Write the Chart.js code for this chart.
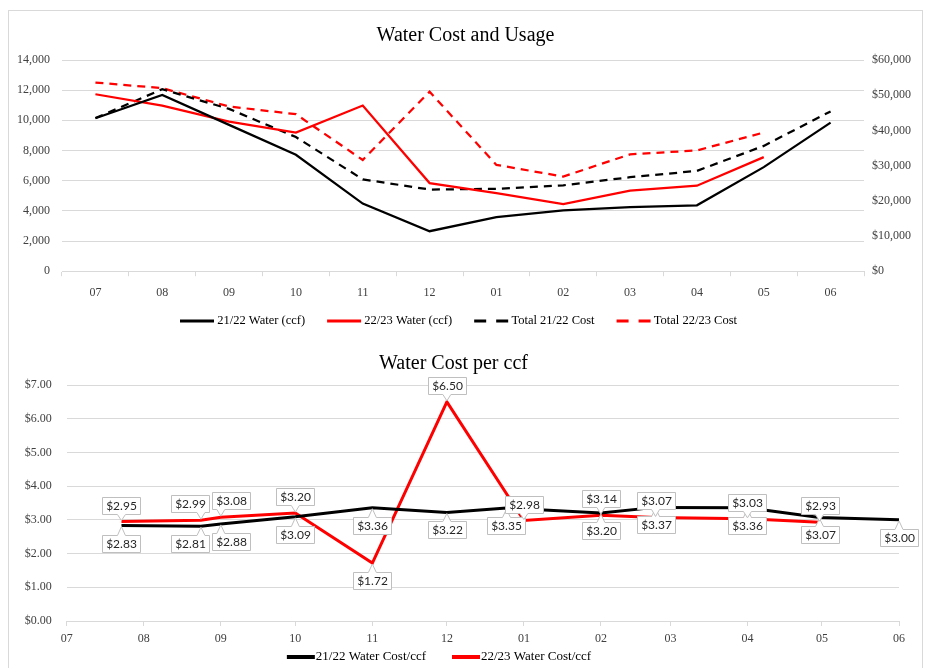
<!DOCTYPE html>
<html>
<head>
<meta charset="utf-8">
<script src="https://cdn.jsdelivr.net/npm/chart.js@4.4.0/dist/chart.umd.min.js"></script>
<style>
  body { margin: 0; background: #fff; width: 926px; height: 668px; overflow: hidden; position: relative; }
  .frame { position: absolute; left: 8px; top: 10px; width: 913px; height: 700px; border: 1px solid #d9d9d9; }
  #usage { position: absolute; left: 0; top: 0; }
  #rate { position: absolute; left: 0; top: 338px; }
</style>
</head>
<body>
<div class="frame"></div>
<canvas id="usage" width="926" height="345" style="width:926px;height:345px"></canvas>
<canvas id="rate" width="926" height="358" style="width:926px;height:358px"></canvas>
<script>
// month labels (fiscal year Jul..Jun)
const months = ['07', '08', '09', '10', '11', '12', '01', '02', '03', '04', '05', '06'];

// top chart: usage (ccf) and total cost ($)
const water2122 = [10140, 11680, 9700, 7720, 4480, 2650, 3590, 4030, 4250, 4370, 6900, 9850];
const water2223 = [11730, 10980, 9920, 9190, 10980, 5840, 5180, 4450, 5340, 5670, 7560, null];
const cost2122 = [43500, 51700, 46100, 38100, 26100, 23200, 23400, 24400, 26700, 28500, 35600, 45400];
const cost2223 = [53600, 52000, 46800, 44600, 31600, 51000, 30200, 26900, 33200, 34300, 39400, null];

// bottom chart: cost per ccf, by billing date (MM-DD)
const rate2122Dates = ['07-23', '08-24', '09-01', '10-01', '11-01', '12-01', '12-25', '02-01', '02-23', '04-01', '04-30', '06-01'];
const rate2122 = [2.83, 2.81, 2.88, 3.09, 3.36, 3.22, 3.35, 3.20, 3.37, 3.36, 3.07, 3.00];
const rate2223Dates = ['07-23', '08-24', '09-01', '10-01', '11-01', '12-01', '01-01', '02-01', '02-23', '04-01', '04-30'];
const rate2223 = [2.95, 2.99, 3.08, 3.20, 1.72, 6.50, 2.98, 3.14, 3.07, 3.03, 2.93];

const serif = "'Liberation Serif', 'Times New Roman', serif";
Chart.defaults.font.family = serif;
Chart.defaults.color = '#404040';

// days since Jul 1 of the season
const seasonStart = Date.UTC(2021, 6, 1);
function seasonDay(md) {
  const [m, d] = md.split('-').map(Number);
  const year = m >= 7 ? 2021 : 2022;
  return (Date.UTC(year, m - 1, d) - seasonStart) / 864e5;
}
const monthTicks = months.map(m => seasonDay(m + '-01'));

// legend boxes are hidden, the line samples are drawn by legendLines
function hiddenBoxes(chart) {
  return Chart.defaults.plugins.legend.labels.generateLabels(chart).map(item =>
    Object.assign(item, { fillStyle: 'rgba(0,0,0,0)', strokeStyle: 'rgba(0,0,0,0)', lineWidth: 0 }));
}

const legendLines = {
  id: 'legendLines',
  afterDraw(chart, args, opts) {
    const legend = chart.legend;
    const ctx = chart.ctx;
    ctx.save();
    legend.legendItems.forEach((item, i) => {
      const box = legend.legendHitBoxes[i];
      const ds = chart.data.datasets[item.datasetIndex];
      const y = Math.round(box.top + box.height / 2);
      ctx.beginPath();
      ctx.setLineDash(ds.borderDash ? opts.dash : []);
      ctx.strokeStyle = ds.borderColor;
      ctx.lineWidth = opts.width;
      ctx.moveTo(box.left, y);
      ctx.lineTo(box.left + opts.length, y);
      ctx.stroke();
    });
    ctx.restore();
  }
};

// move the legend block after layout (hit boxes are rebuilt from it)
const legendNudge = {
  id: 'legendNudge',
  afterLayout(chart, args, opts) {
    const lg = chart.legend;
    lg.left += opts.dx; lg.right += opts.dx;
    lg.top += opts.dy; lg.bottom += opts.dy;
  }
};

new Chart(document.getElementById('usage'), {
  type: 'line',
  data: {
    labels: months,
    datasets: [
      { label: '21/22 Water (ccf)', data: water2122, borderColor: '#000', yAxisID: 'y' },
      { label: '22/23 Water (ccf)', data: water2223, borderColor: '#ff0000', yAxisID: 'y' },
      { label: 'Total 21/22 Cost', data: cost2122, borderColor: '#000', borderDash: [8, 6], yAxisID: 'y1' },
      { label: 'Total 22/23 Cost', data: cost2223, borderColor: '#ff0000', borderDash: [8, 6], yAxisID: 'y1' }
    ]
  },
  options: {
    responsive: false,
    animation: false,
    elements: { point: { radius: 0 }, line: { tension: 0, borderWidth: 2.25 } },
    layout: { padding: { left: 9, right: 4, top: 10, bottom: 1.3 } },
    plugins: {
      title: {
        display: true, text: 'Water Cost and Usage', color: '#000',
        font: { size: 20, weight: 'normal' }, padding: { top: 14, bottom: 12 }
      },
      legend: {
        position: 'bottom',
        labels: {
          boxWidth: 31, boxHeight: 2, padding: 22, color: '#000',
          font: { size: 12.5 }, generateLabels: hiddenBoxes
        }
      },
      legendLines: { length: 34, width: 3, dash: [12, 10] },
      legendNudge: { dx: -7, dy: -6.7 },
      tooltip: { enabled: false }
    },
    scales: {
      x: {
        offset: true,
        grid: { offset: true, drawOnChartArea: false, tickLength: 5, color: '#d9d9d9' },
        border: { color: '#d9d9d9' },
        ticks: { padding: 9, font: { size: 12 } },
        afterFit: s => { s.height = 28; }
      },
      y: {
        position: 'left', min: 0, max: 14000,
        ticks: { stepSize: 2000, padding: 12, font: { size: 12 }, callback: v => v.toLocaleString('en-US') },
        grid: { color: '#d9d9d9', drawTicks: false },
        border: { display: false },
        afterFit: s => { s.width = 53; }
      },
      y1: {
        position: 'right', min: 0, max: 60000,
        ticks: { stepSize: 10000, padding: 8, font: { size: 12 }, callback: v => '$' + v.toLocaleString('en-US') },
        grid: { display: false, drawTicks: false },
        border: { display: false },
        afterFit: s => { s.width = 58; }
      }
    }
  },
  plugins: [legendNudge, legendLines]
});

// callout data labels for the cost-per-ccf chart
const calloutLabels = {
  id: 'calloutLabels',
  afterDatasetsDraw(chart) {
    const ctx = chart.ctx;
    ctx.save();
    ctx.font = "12px Lato, 'Liberation Sans', sans-serif";
    const groups = {};
    chart.data.datasets.forEach((ds, di) => {
      const values = ds.data.map(p => p.y);
      const low = Math.min(...values);
      chart.getDatasetMeta(di).data.forEach((pt, i) => {
        const v = values[i];
        const text = '$' + v.toFixed(2);
        const w = Math.round(ctx.measureText(text).width + 7), h = 17;
        // last year's labels sit under the line, this year's above (except its low)
        const below = di === 0 || v === low;
        const y = below ? pt.y + 9 : pt.y - 8 - h;
        const key = di + (below ? 'b' : 'a');
        (groups[key] = groups[key] || []).push({ text, w, h, cx: pt.x, y, px: pt.x, py: pt.y, below });
      });
    });
    Object.values(groups).forEach(list => {
      list.sort((a, b) => a.cx - b.cx);
      for (let pass = 0; pass < 4; pass++) {
        for (let i = 1; i < list.length; i++) {
          const a = list[i - 1], b = list[i];
          const overlap = (a.cx + a.w / 2 + 3) - (b.cx - b.w / 2);
          if (overlap > 0) { a.cx -= overlap / 2; b.cx += overlap / 2; }
        }
      }
      list.forEach(b => drawCallout(ctx, b));
    });
    ctx.restore();
  }
};

function drawCallout(ctx, b) {
  const x = Math.round(b.cx - b.w / 2) + 0.5, y = Math.round(b.y) + 0.5, w = b.w, h = b.h;
  const wx = Math.min(Math.max(b.px, x + 6), x + w - 6);
  ctx.beginPath();
  if (b.below) {
    ctx.moveTo(x, y);
    ctx.lineTo(wx - 4, y); ctx.lineTo(b.px, b.py + 1); ctx.lineTo(wx + 4, y);
    ctx.lineTo(x + w, y); ctx.lineTo(x + w, y + h); ctx.lineTo(x, y + h);
  } else {
    ctx.moveTo(x, y); ctx.lineTo(x + w, y); ctx.lineTo(x + w, y + h);
    ctx.lineTo(wx + 4, y + h); ctx.lineTo(b.px, b.py - 1); ctx.lineTo(wx - 4, y + h);
    ctx.lineTo(x, y + h);
  }
  ctx.closePath();
  ctx.fillStyle = '#fff';
  ctx.fill();
  ctx.strokeStyle = '#bfbfbf';
  ctx.lineWidth = 1;
  ctx.stroke();
  ctx.fillStyle = '#262626';
  ctx.textAlign = 'center';
  ctx.textBaseline = 'middle';
  ctx.fillText(b.text, x + w / 2, y + h / 2 + 0.5);
}

new Chart(document.getElementById('rate'), {
  type: 'line',
  data: {
    datasets: [
      {
        label: '21/22 Water Cost/ccf', borderColor: '#000',
        data: rate2122.map((v, i) => ({ x: seasonDay(rate2122Dates[i]), y: v }))
      },
      {
        label: '22/23 Water Cost/ccf', borderColor: '#ff0000',
        data: rate2223.map((v, i) => ({ x: seasonDay(rate2223Dates[i]), y: v }))
      }
    ]
  },
  options: {
    responsive: false,
    animation: false,
    elements: { point: { radius: 0 }, line: { tension: 0, borderWidth: 3 } },
    layout: { padding: { left: 8, right: 27, top: 3, bottom: 1 } },
    plugins: {
      title: {
        display: true, text: 'Water Cost per ccf', color: '#000',
        font: { size: 20, weight: 'normal' }, padding: { top: 11, bottom: 9 }
      },
      legend: {
        position: 'bottom',
        labels: {
          boxWidth: 22.5, boxHeight: 2, padding: 26, color: '#000',
          font: { size: 13 }, generateLabels: hiddenBoxes
        }
      },
      legendLines: { length: 28, width: 4, dash: [] },
      legendNudge: { dx: -14.5, dy: -21.5 },
      tooltip: { enabled: false }
    },
    scales: {
      x: {
        type: 'linear', min: 0, max: monthTicks[monthTicks.length - 1],
        afterBuildTicks: s => { s.ticks = monthTicks.map(v => ({ value: v })); },
        ticks: { autoSkip: false, maxRotation: 0, padding: 6, font: { size: 12 }, callback: (v, i) => months[i] },
        grid: { drawOnChartArea: false, tickLength: 5, color: '#d9d9d9' },
        border: { color: '#d9d9d9' },
        afterFit: s => { s.height = 25; }
      },
      y: {
        min: 0, max: 7,
        ticks: { stepSize: 1, padding: 15, font: { size: 12 }, callback: v => '$' + v.toFixed(2) },
        grid: { color: '#d9d9d9', drawTicks: false },
        border: { display: false },
        afterFit: s => { s.width = 58.8; }
      }
    }
  },
  plugins: [calloutLabels, legendNudge, legendLines]
});
</script>
</body>
</html>
